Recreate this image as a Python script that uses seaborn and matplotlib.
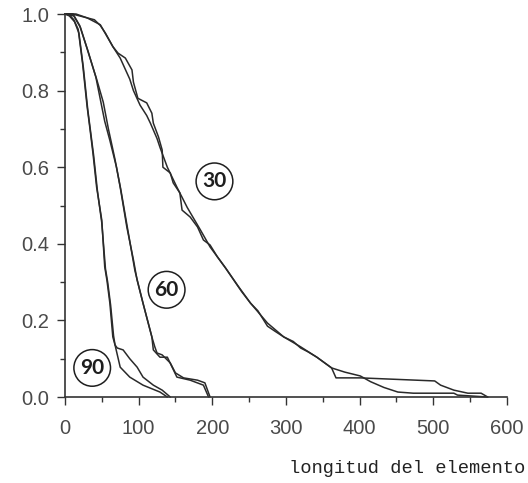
import numpy as np
import pandas as pd
import seaborn as sns
import matplotlib
matplotlib.use('Agg')
import matplotlib.pyplot as plt

x30_a = [0, 10, 30, 40, 48, 55, 65, 72, 82, 91, 93, 99, 111, 118, 120, 127, 132, 133, 143, 147,
         156, 159, 170, 180, 188, 197, 207, 218, 235, 252, 262, 275, 285, 297, 310, 320, 330,
         342, 352, 362, 368, 401, 502, 510, 528, 547, 565, 574]
y30_a = [1.0, 1.0, 0.99, 0.985, 0.97, 0.95, 0.915, 0.898, 0.885, 0.854, 0.822, 0.78, 0.768, 0.741,
         0.715, 0.679, 0.645, 0.60, 0.585, 0.559, 0.533, 0.488, 0.47, 0.444, 0.41, 0.397, 0.366,
         0.337, 0.29, 0.245, 0.225, 0.185, 0.172, 0.157, 0.145, 0.128, 0.118, 0.104, 0.09, 0.076,
         0.05, 0.05, 0.042, 0.031, 0.018, 0.010, 0.010, 0.0]
x30_b = [0, 15, 30, 48, 65, 75, 88, 93, 102, 111, 116, 125, 129, 139, 152, 166, 184, 197, 218,
         240, 252, 275, 297, 320, 342, 362, 380, 401, 415, 433, 452, 473, 528, 533, 574]
y30_b = [1.0, 1.0, 0.99, 0.972, 0.915, 0.885, 0.83, 0.80, 0.762, 0.735, 0.715, 0.675, 0.652, 0.60,
         0.548, 0.495, 0.436, 0.392, 0.337, 0.275, 0.245, 0.193, 0.157, 0.131, 0.104, 0.076, 0.065,
         0.055, 0.040, 0.025, 0.013, 0.010, 0.010, 0.005, 0.0]

x60_a = [0, 11, 20, 30, 43, 52, 59, 68, 75, 84, 93, 98, 106, 118, 122, 125, 132, 143, 150, 161,
         180, 190, 197]
y60_a = [1.0, 1.0, 0.97, 0.91, 0.83, 0.77, 0.70, 0.62, 0.548, 0.444, 0.358, 0.305, 0.245, 0.157,
         0.131, 0.115, 0.11, 0.089, 0.063, 0.05, 0.044, 0.037, 0.0]
x60_b = [0, 12, 21, 31, 42, 54, 61, 70, 76, 85, 95, 106, 118, 120, 129, 139, 146, 152, 170, 188, 195]
y60_b = [1.0, 0.995, 0.965, 0.905, 0.835, 0.72, 0.67, 0.6, 0.54, 0.44, 0.33, 0.245, 0.157, 0.123,
         0.104, 0.104, 0.076, 0.052, 0.044, 0.031, 0.0]

x90_a = [0, 5, 12, 18, 24, 30, 34, 38, 43, 50, 54, 57, 61, 65, 68, 75, 88, 106, 129, 139]
y90_a = [1.0, 1.0, 0.985, 0.96, 0.87, 0.76, 0.70, 0.637, 0.548, 0.462, 0.34, 0.305, 0.245, 0.157,
         0.136, 0.078, 0.052, 0.031, 0.013, 0.0]
x90_b = [0, 6, 13, 19, 25, 31, 35, 39, 44, 50, 55, 58, 62, 66, 68, 71, 79, 88, 98, 106, 120, 132, 143]
y90_b = [1.0, 0.995, 0.98, 0.95, 0.86, 0.75, 0.69, 0.63, 0.54, 0.455, 0.335, 0.30, 0.24, 0.16,
         0.136, 0.128, 0.123, 0.10, 0.078, 0.052, 0.031, 0.018, 0.0]

etiquetas = ["30", "60", "90"]
pos_etiquetas = [(203, 0.563), (138, 0.28), (37, 0.076)]

curvas = [(x30_a, y30_a), (x30_b, y30_b), (x60_a, y60_a), (x60_b, y60_b),
          (x90_a, y90_a), (x90_b, y90_b)]

sns.set_style("ticks")
fig = plt.figure(figsize=(5.28, 4.83), dpi=100)
ax = fig.add_axes([0.123, 0.178, 0.837, 0.793])

for i, (xs, ys) in enumerate(curvas):
    df = pd.DataFrame({"x": xs, "y": ys})
    sns.lineplot(data=df, x="x", y="y", ax=ax, color="#2a2a2a", lw=1.1,
                 sort=False, estimator=None, clip_on=False)

for txt, (px, py) in zip(etiquetas, pos_etiquetas):
    ax.text(px, py, txt, ha="center", va="center", fontsize=15, fontweight="bold",
            family=["Lato", "DejaVu Sans"], color="#1e1e1e",
            bbox=dict(boxstyle="circle,pad=0.3", fc="white", ec="#1e1e1e", lw=1.1))

ax.set_xlim(0, 600)
ax.set_ylim(0, 1.0)
ax.set_xticks([0, 100, 200, 300, 400, 500, 600])
ax.set_xticks(np.arange(50, 600, 100), minor=True)
ax.set_yticks([0.0, 0.2, 0.4, 0.6, 0.8, 1.0])
ax.set_yticks([0.1, 0.3, 0.5, 0.7, 0.9], minor=True)
ax.set_yticklabels(["0.0", "0.2", "0.4", "0.6", "0.8", "1.0"])
ax.tick_params(axis="both", which="major", length=5.5, width=1.0, color="#333333",
               labelsize=14.5, labelcolor="#4a4a4a")
ax.tick_params(axis="x", which="major", pad=10)
ax.tick_params(axis="y", which="major", pad=6)
ax.tick_params(axis="both", which="minor", length=3.5, width=1.0, color="#333333")
for lab in ax.get_xticklabels() + ax.get_yticklabels():
    lab.set_family("Liberation Sans")
ax.set_xlabel("")
ax.set_ylabel("")
sns.despine(ax=ax)
for s in ["left", "bottom"]:
    ax.spines[s].set_color("#333333")
    ax.spines[s].set_linewidth(1.2)

fig.text(0.547, 0.031, "longitud del elemento", family="Liberation Mono", fontsize=13.5,
         color="#222222", ha="left", va="center")

fig.savefig("out.png", dpi=100)
